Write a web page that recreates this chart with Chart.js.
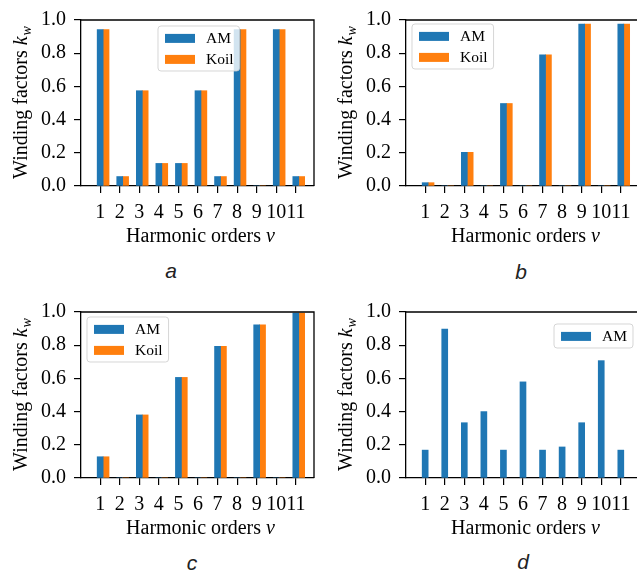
<!DOCTYPE html>
<html>
<head>
<meta charset="utf-8">
<script src="https://cdn.jsdelivr.net/npm/chart.js@4.4.1/dist/chart.umd.min.js"></script>
<style>
  html, body { margin: 0; padding: 0; background: #fff; width: 637px; height: 573px; overflow: hidden; }
  .panel { position: absolute; }
  .panel canvas { display: block; }
  .cap { position: absolute; font: italic 21px "Liberation Sans", Arial, sans-serif; color: #222; transform: translate(-50%, -50%); }
</style>
</head>
<body>
<div class="panel" style="left:0px;top:0px"><canvas id="chartA" width="318" height="250"></canvas></div>
<div class="panel" style="left:325px;top:0px"><canvas id="chartB" width="318" height="250"></canvas></div>
<div class="panel" style="left:0px;top:292px"><canvas id="chartC" width="318" height="250"></canvas></div>
<div class="panel" style="left:325px;top:292px"><canvas id="chartD" width="318" height="250"></canvas></div>
<div class="cap" style="left:171px;top:271px">a</div>
<div class="cap" style="left:521px;top:272px">b</div>
<div class="cap" style="left:192px;top:563px">c</div>
<div class="cap" style="left:523px;top:562px">d</div>

<script>
// harmonic orders on the x axis
const harmonics = [1, 2, 3, 4, 5, 6, 7, 8, 9, 10, 11];
const yTicks = [0, 0.2, 0.4, 0.6, 0.8, 1.0];

// winding factors
const amA   = [0.943, 0.057, 0.574, 0.136, 0.136, 0.574, 0.057, 0.943, 0, 0.943, 0.057];
const koilA = [0.943, 0.057, 0.574, 0.136, 0.136, 0.574, 0.057, 0.943, 0, 0.943, 0.057];
const amB   = [0.02, 0, 0.203, 0, 0.497, 0, 0.79, 0, 0.975, 0, 0.975];
const koilB = [0.02, 0, 0.203, 0, 0.497, 0, 0.79, 0, 0.975, 0, 0.975];
const amC   = [0.128, 0, 0.38, 0, 0.606, 0, 0.793, 0, 0.923, 0, 0.994];
const koilC = [0.128, 0, 0.38, 0, 0.606, 0, 0.793, 0, 0.923, 0, 0.994];
const amD   = [0.168, 0.897, 0.333, 0.40, 0.168, 0.579, 0.168, 0.187, 0.333, 0.707, 0.168];

const xTitle = 'Harmonic orders ';
const xVar = 'v';
const yTitle = 'Winding factors ';
const yVar = 'k';
const ySub = 'w';

const AM_COLOR = '#1f77b4';
const KOIL_COLOR = '#ff7f0e';

const X_MIN = 0.02, X_MAX = 11.93;
const BAR_W = 0.3; // bar width in x units, Koil sits one bar to the right

Chart.defaults.font.family = '"Liberation Serif", "Times New Roman", serif';
Chart.defaults.font.size = 20;
Chart.defaults.color = '#000';

// top and right spines
const frame = {
    id: 'frame',
    afterDraw(chart) {
        const ctx = chart.ctx, a = chart.chartArea;
        ctx.save();
        ctx.strokeStyle = '#000';
        ctx.lineWidth = 1.3;
        ctx.beginPath();
        ctx.moveTo(a.left, a.top);
        ctx.lineTo(a.right, a.top);
        ctx.lineTo(a.right, a.bottom);
        ctx.stroke();
        ctx.restore();
    }
};

// axis titles with italic / subscript parts
const axisTitles = {
    id: 'axisTitles',
    afterDraw(chart) {
        const ctx = chart.ctx, a = chart.chartArea;
        const plain = '20px "Liberation Serif"';
        const ital = 'italic 20px "Liberation Serif"';
        const small = 'italic 14px "Liberation Serif"';
        ctx.save();
        ctx.fillStyle = '#000';
        ctx.textBaseline = 'alphabetic';
        ctx.textAlign = 'left';

        ctx.font = plain;
        const w1 = ctx.measureText(xTitle).width;
        ctx.font = ital;
        const w2 = ctx.measureText(xVar).width;
        let x0 = (a.left + a.right) / 2 - (w1 + w2) / 2 + 3;
        const yb = a.bottom + 56;
        ctx.font = plain;
        ctx.fillText(xTitle, x0, yb);
        ctx.font = ital;
        ctx.fillText(xVar, x0 + w1, yb);

        ctx.font = plain;
        const t1 = ctx.measureText(yTitle).width;
        ctx.font = ital;
        const t2 = ctx.measureText(yVar).width;
        ctx.font = small;
        const t3 = ctx.measureText(ySub).width;
        ctx.translate(27, (a.top + a.bottom) / 2);
        ctx.rotate(-Math.PI / 2);
        let s = -(t1 + t2 + t3) / 2;
        ctx.font = plain;
        ctx.fillText(yTitle, s, 0);
        ctx.font = ital;
        ctx.fillText(yVar, s + t1, 0);
        ctx.font = small;
        ctx.fillText(ySub, s + t1 + t2 + 1, 4);
        ctx.restore();
    }
};

// matplotlib style legend box inside the plot
const boxLegend = {
    id: 'boxLegend',
    afterDraw(chart, args, opts) {
        const ctx = chart.ctx, a = chart.chartArea;
        const items = chart.data.datasets;
        ctx.save();
        ctx.font = '15.5px "Liberation Serif"';
        const textW = Math.max(...items.map(d => ctx.measureText(d.label).width));
        const w = 7 + 30 + 11 + textW + 6;
        const h = items.length * 21 + 3;
        const x = opts.right !== undefined ? a.right - opts.right - w : a.left + opts.left;
        const y = a.top + opts.top;
        ctx.beginPath();
        ctx.roundRect(x, y, w, h, 3);
        ctx.fillStyle = 'rgba(255,255,255,0.8)';
        ctx.fill();
        ctx.strokeStyle = 'rgba(204,204,204,0.8)';
        ctx.lineWidth = 1;
        ctx.stroke();
        items.forEach((d, i) => {
            const cy = y + 12.4 + i * 21;
            ctx.fillStyle = d.backgroundColor;
            ctx.fillRect(x + 7, cy - 4.5, 30, 9);
            ctx.fillStyle = '#000';
            ctx.textBaseline = 'middle';
            ctx.fillText(d.label, x + 48, cy + 1);
        });
        ctx.restore();
    }
};

function makeChart(id, series, legendAt) {
    const datasets = series.map((s, k) => ({
        label: s.name,
        data: harmonics.map((h, i) => ({ x: h, y: s.values[i] })),
        backgroundColor: s.color,
        borderWidth: 0,
        barThickness: 6,
        grouped: false,
        xAxisID: k === 0 ? 'x' : 'xShift'
    }));

    return new Chart(document.getElementById(id), {
        type: 'bar',
        data: { datasets: datasets },
        options: {
            responsive: false,
            animation: false,
            layout: { padding: { top: 12, right: 4, left: 0, bottom: 0 } },
            plugins: {
                legend: { display: false },
                tooltip: { enabled: false },
                boxLegend: legendAt
            },
            scales: {
                x: {
                    type: 'linear',
                    min: X_MIN,
                    max: X_MAX,
                    offset: false,
                    grid: { offset: false, drawOnChartArea: false, color: '#000', lineWidth: 1.2, tickLength: 7 },
                    border: { color: '#000', width: 1.3 },
                    ticks: { color: '#000', padding: 8, maxRotation: 0, autoSkip: false, callback: v => String(v) },
                    afterBuildTicks: sc => { sc.ticks = harmonics.map(v => ({ value: v })); },
                    afterFit: sc => { sc.height = 64; }
                },
                xShift: {
                    type: 'linear',
                    display: false,
                    min: X_MIN - BAR_W,
                    max: X_MAX - BAR_W,
                    offset: false
                },
                y: {
                    min: 0,
                    max: 1,
                    grid: { drawOnChartArea: false, color: '#000', lineWidth: 1.2, tickLength: 7 },
                    border: { color: '#000', width: 1.3 },
                    ticks: { color: '#000', padding: 8, callback: v => v.toFixed(1) },
                    afterBuildTicks: sc => { sc.ticks = yTicks.map(v => ({ value: v })); },
                    afterFit: sc => { sc.width = 81; }
                }
            }
        },
        plugins: [frame, axisTitles, boxLegend]
    });
}

makeChart('chartA', [
    { name: 'AM', values: amA, color: AM_COLOR },
    { name: 'Koil', values: koilA, color: KOIL_COLOR }
], { left: 77, top: 6 });

makeChart('chartB', [
    { name: 'AM', values: amB, color: AM_COLOR },
    { name: 'Koil', values: koilB, color: KOIL_COLOR }
], { left: 6, top: 4 });

makeChart('chartC', [
    { name: 'AM', values: amC, color: AM_COLOR },
    { name: 'Koil', values: koilC, color: KOIL_COLOR }
], { left: 6, top: 5 });

makeChart('chartD', [
    { name: 'AM', values: amD, color: AM_COLOR }
], { right: 6, top: 12 });
</script>
</body>
</html>
